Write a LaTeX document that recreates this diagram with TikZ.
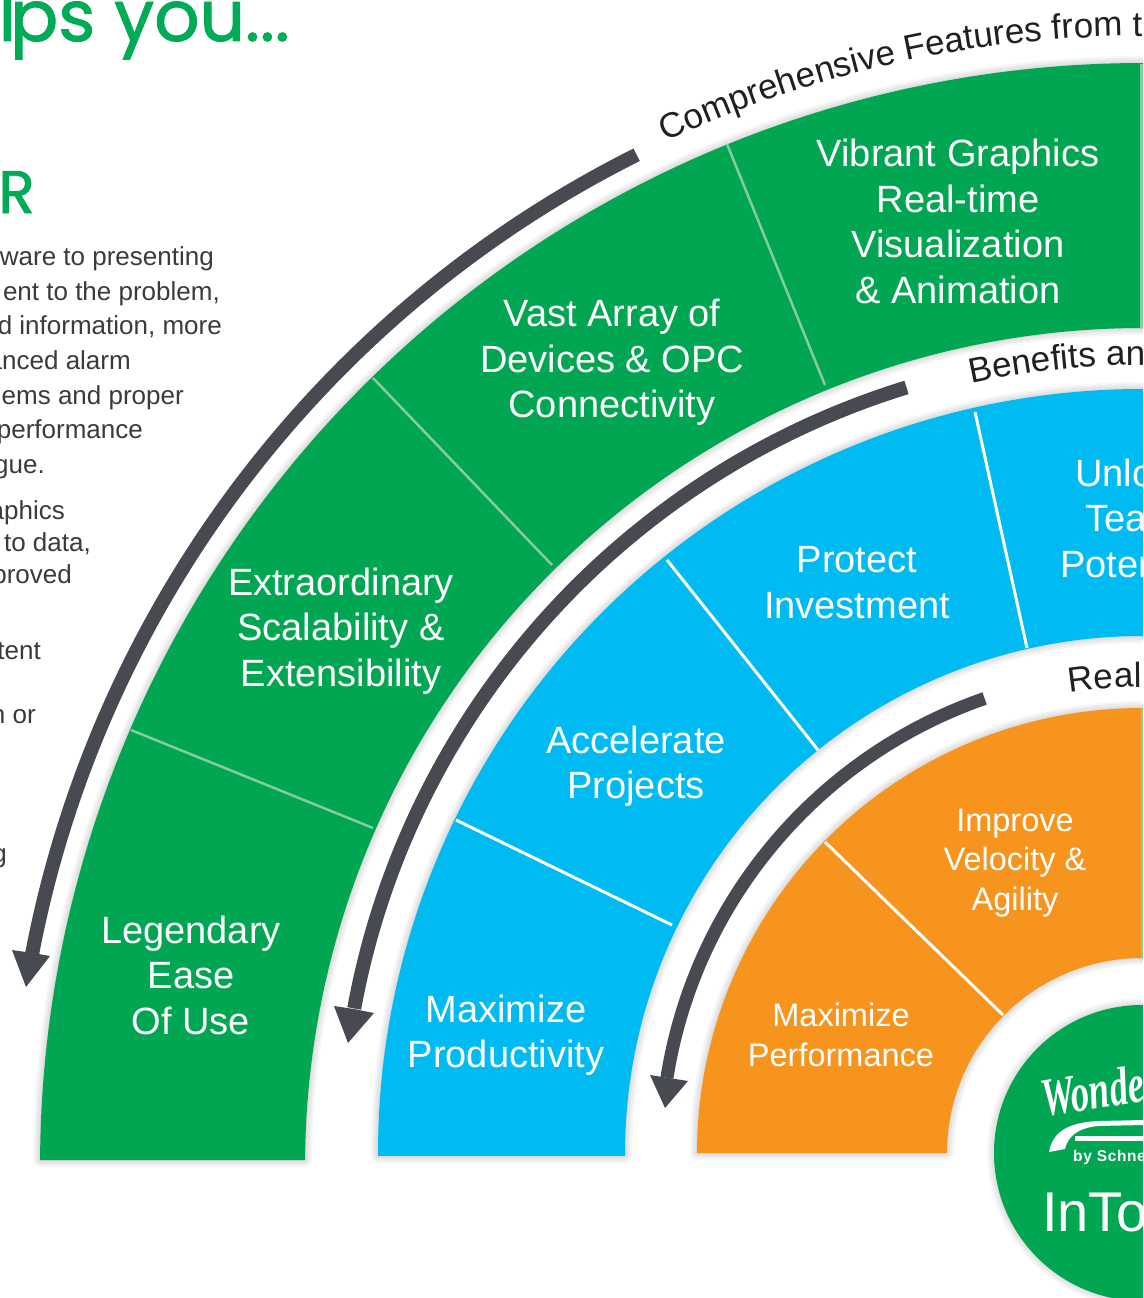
\documentclass[tikz,border=0pt]{standalone}
\usepackage{graphicx}
\usepackage{fontspec}
\setmainfont{Liberation Sans}
\newfontfamily\headfont[FakeBold=1.3]{Poppins}
\newfontfamily\logofont{Liberation Serif}
\usetikzlibrary{decorations.text}
\definecolor{ringgreen}{HTML}{00A651}
\definecolor{ringblue}{HTML}{00BAF2}
\definecolor{ringorange}{HTML}{F7941E}
\definecolor{headgreen}{HTML}{00AB55}
\definecolor{arrowgrey}{HTML}{474B51}
\definecolor{bodygrey}{HTML}{3B3A3C}
\definecolor{softline}{HTML}{86CC9C}
\definecolor{curvetext}{HTML}{231F20}
% outer arc from a0 to a1 (radius R), back along radius r to a2, around named centre
\newcommand{\ringshape}[6]{([shift={(#4:#2)}]#1) arc[start angle=#4,end angle=#5,radius=#2] -- ([shift={(#5:#3)}]#1) arc[start angle=#5,end angle=#6,radius=#3] -- cycle}
\tikzset{
  seglabel/.style={text=white,align=center,inner sep=0pt,font=\fontsize{38}{45.5}\selectfont},
  smalllabel/.style={text=white,align=center,inner sep=0pt,font=\fontsize{32.5}{39.5}\selectfont},
  bodyline/.style={text=bodygrey,anchor=base east,inner sep=0pt,font=\fontsize{26}{30}\selectfont},
  softdiv/.style={draw=softline,line width=2.5pt},
  whitediv/.style={draw=white,line width=3pt},
  arrowbar/.style={draw=arrowgrey,line width=#1},
  arrowhead/.style={fill=arrowgrey},
}
\begin{document}
\begin{tikzpicture}[x=1pt,y=1pt]
\path[use as bounding box] (0,0) rectangle (1143,-1298);
\clip (0,0) rectangle (1143,-1298);
\fill[white] (0,0) rectangle (1143,-1298);
\coordinate (gc) at (1143,-1166);
\coordinate (bc) at (1142,-1153);

% soft shadows
\foreach \w in {14,10,6,2}{
  \begin{scope}[shift={(5,-5)}]
    \draw[black,opacity=.035,line width=\w pt,line join=round] \ringshape{gc}{1103}{838}{179.69}{85}{179.59};
    \draw[black,opacity=.035,line width=\w pt,line join=round] \ringshape{bc}{764}{517}{180.22}{85}{180.33};
    \draw[black,opacity=.035,line width=\w pt,line join=round] \ringshape{bc}{445}{195}{180}{85}{180};
    \draw[black,opacity=.03,line width=\w pt] (bc) circle[radius=148];
    \draw[black,opacity=.03,line width=\w pt] ([shift={(116.6:1131)}]gc) arc[start angle=116.6,end angle=169.3,radius=1131];
    \draw[black,opacity=.03,line width=\w pt] ([shift={(107.1:801)}]bc) arc[start angle=107.1,end angle=169.6,radius=801];
    \draw[black,opacity=.03,line width=\w pt] ([shift={(109.1:481)}]bc) arc[start angle=109.1,end angle=171,radius=481];
  \end{scope}
}

% rings
\fill[ringgreen] \ringshape{gc}{1103}{838}{179.69}{85}{179.59};
\fill[ringblue] \ringshape{bc}{764}{517}{180.22}{85}{180.33};
\fill[ringorange] \ringshape{bc}{445}{195}{180}{85}{180};
\fill[ringgreen] (bc) circle[radius=148];

% dividers
\draw[softdiv] (131,-730) -- (373,-828);
\draw[softdiv] (373,-378) -- (552,-565);
\draw[softdiv] (727,-144) -- (825,-385);
\draw[softdiv] (1141.5,-64) -- (1141.5,-328);
\draw[whitediv] (456,-820) -- (672,-925);
\draw[whitediv] (667,-560) -- (818,-750);
\draw[whitediv] (975,-412) -- (1027,-648);
\draw[whitediv] (825,-842) -- (1003,-1015);
\draw[softline,line width=2pt] (1142,-708) -- (1142,-958);

% arrows
\draw[arrowbar=14pt] ([shift={(116.6:1131)}]gc) arc[start angle=116.6,end angle=169.3,radius=1131];
\fill[arrowhead] (12,-950) -- (33,-953) -- (50,-956) -- (26,-987) -- cycle;
\draw[arrowbar=14pt] ([shift={(107.1:801)}]bc) arc[start angle=107.1,end angle=169.6,radius=801];
\fill[arrowhead] (334,-1006) -- (354,-1009) -- (374,-1013) -- (348,-1043) -- cycle;
\draw[arrowbar=13pt] ([shift={(109.1:481)}]bc) arc[start angle=109.1,end angle=171,radius=481];
\fill[arrowhead] (650,-1075) -- (669,-1078) -- (688,-1081) -- (665,-1108) -- cycle;

% curved titles
\path[decorate,decoration={text along path,text={|\color{curvetext}\fontsize{35}{40}\selectfont|Comprehensive Features from t}}]
  ([shift={(115:1130)}]gc) arc[start angle=115,end angle=85,radius=1130];
\path[decorate,decoration={text along path,text={|\color{curvetext}\fontsize{35}{40}\selectfont|Benefits an}}]
  ([shift={(102.5:788)}]bc) arc[start angle=102.5,end angle=80,radius=788];
\path[decorate,decoration={text along path,text={|\color{curvetext}\fontsize{35}{40}\selectfont|Real}}]
  ([shift={(98.9:466)}]bc) arc[start angle=98.9,end angle=70,radius=466];

% segment labels
\node[seglabel] (ease) at (191,-975) {Legendary\\Ease\\Of Use};
\node[seglabel] (scal) at (341,-631) {Extraordinary\\Scalability \&\\Extensibility};
\node[seglabel] (opc) at (612,-362.5) {Vast Array of\\Devices \& OPC\\Connectivity};
\node[seglabel] (vibr) at (958,-221.5) {Vibrant Graphics\\Real-time\\Visualization\\\& Animation};
\node[seglabel] (prod) at (506,-1035) {Maximize\\Productivity};
\node[seglabel] (proj) at (636,-766) {Accelerate\\Projects};
\node[seglabel] (inv) at (857,-582.5) {Protect\\Investment};
\node[seglabel,anchor=base west] (unl) at (1075,-486) {Unlo};
\node[seglabel,anchor=base west] (tea) at (1085,-531) {Tea};
\node[seglabel,anchor=base west] (pot) at (1060,-577) {Poten};
\node[smalllabel] (perf) at (841,-1035) {Maximize\\Performance};
\node[smalllabel] (velo) at (1015,-863) {Improve\\Velocity \&\\Agility};

% centre logo
\node[text=white,anchor=base west,inner sep=0pt,rotate=9,font=\logofont\bfseries\itshape\fontsize{54}{54}\selectfont] (wond) at (1044,-1117) {\scalebox{.68}[1]{Wonde}};
\fill[white] (1049,-1152) .. controls (1052,-1135) and (1064,-1122) .. (1100,-1121) -- (1143,-1120) -- (1143,-1125) -- (1098,-1126) .. controls (1078,-1128) and (1068,-1136) .. (1065,-1149) -- cycle;
\fill[white] (1075,-1136) rectangle (1143,-1141);
\node[text=white,anchor=base west,inner sep=0pt,font=\bfseries\fontsize{15.5}{18}\selectfont\addfontfeature{LetterSpace=4}] (schn) at (1073,-1161) {by Schne};
\node[text=white,anchor=base west,inner sep=0pt,font=\fontsize{56}{60}\selectfont] (into) at (1042,-1231) {InTo};

% heading
\node[text=headgreen,anchor=base east,inner sep=0pt,font=\headfont\fontsize{71}{71}\selectfont] (hd) at (290,-41) {l\kern-6pt ps you...};
\node[text=headgreen,anchor=base east,inner sep=0pt,font=\headfont\fontsize{60}{60}\selectfont] (rr) at (35,-213) {R};

% body text
\node[bodyline] (b1) at (214,-265) {ware to presenting};
\node[bodyline] (b2) at (220,-300) {ent to the problem,};
\node[bodyline] (b3) at (222,-334) {d information, more};
\node[bodyline] (b4) at (131,-369) {anced alarm};
\node[bodyline] (b5) at (184,-404) {ems and proper};
\node[bodyline] (b6) at (143,-438) {performance};
\node[bodyline] (b7) at (45,-473) {gue.};
\node[bodyline] (b8) at (65,-519) {aphics};
\node[bodyline] (b9) at (91,-551) {to data,};
\node[bodyline] (b10) at (72,-583) {proved};
\node[bodyline] (b11) at (41,-659) {tent};
\node[bodyline] (b12) at (36,-723) {n or};
\node[bodyline] (b13) at (7,-862) {g};
\end{tikzpicture}
\end{document}
